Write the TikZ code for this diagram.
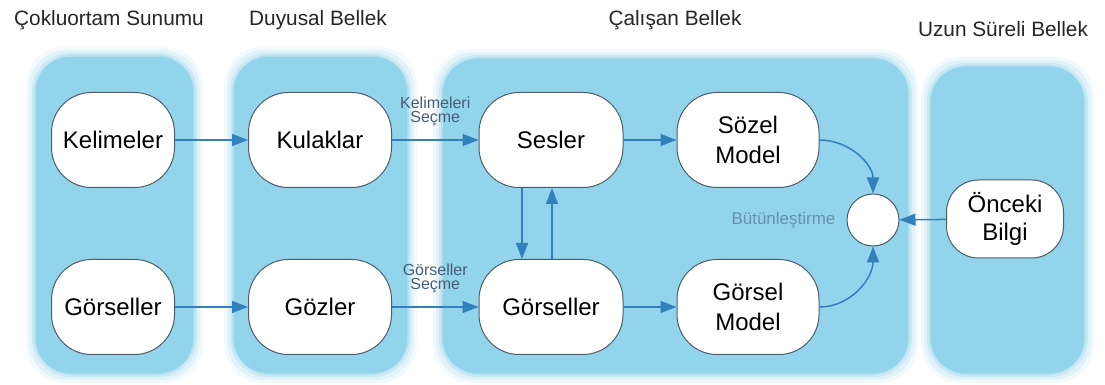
\documentclass[tikz,border=0pt]{standalone}
\usepackage{fontspec}
\setmainfont{Liberation Sans}
\usetikzlibrary{positioning,arrows.meta}
\definecolor{panelblue}{RGB}{146,212,236}
\definecolor{flowblue}{RGB}{50,128,190}
\definecolor{edgegray}{RGB}{80,92,104}
\definecolor{notegray}{RGB}{70,95,120}
\definecolor{softblue}{RGB}{105,145,172}
\tikzset{
  stage box/.style={
    draw=edgegray,
    fill=white,
    line width=0.5pt,
    rounded corners=20pt,
    minimum width={#1},
    minimum height=47.5pt,
    align=center,
    font=\fontsize{12}{15}\selectfont,
  },
  area title/.style={
    font=\fontsize{10.4}{12}\selectfont,
    text=black!85,
  },
  pick note/.style={
    font=\fontsize{8}{7}\selectfont,
    text=notegray,
    align=center,
  },
  flow/.style={
    draw=flowblue,
    line width=0.75pt,
    -{Triangle[length=8pt,width=6pt]},
  }
}
% soft edged memory area: x1,y1,x2,y2 in px
\newcommand{\memarea}[4]{%
  \foreach \g/\o in {10/0.1,7/0.18,4/0.28,2/0.42}
    \fill[panelblue, opacity=\o, rounded corners=19pt]
      (#1-\g,#2-\g) rectangle (#3+\g,#4+\g);
  \fill[panelblue, rounded corners=17pt] (#1,#2) rectangle (#3,#4);
}

\begin{document}
\begin{tikzpicture}[x=0.5pt,y=-0.5pt]
        \useasboundingbox (0,0) rectangle (1105,385);
        \fill[white] (0,0) rectangle (1105,385);

        % memory areas
        \memarea{36}{57}{193}{373}
        \memarea{234}{57}{407}{373}
        \memarea{443}{59}{908}{373}
        \memarea{931}{67}{1084}{373}

        % area titles
        \node [area title] (t1) at (109,20) {Çokluortam Sunumu};
        \node [area title] (t2) at (318,20) {Duyusal Bellek};
        \node [area title] (t3) at (675,20) {Çalışan Bellek};
        \node [area title] (t4) at (1003,29) {Uzun Süreli Bellek};

        % stages
        \node [stage box=61.5pt] (kel) at (113,140) {Kelimeler};
        \node [stage box=61.5pt] (gor1) at (113,307) {Görseller};
        \node [stage box=71.5pt] (kul) at (320,140) {Kulaklar};
        \node [stage box=71.5pt] (goz) at (320,307) {Gözler};
        \node [stage box=72pt] (ses) at (551,140) {Sesler};
        \node [stage box=72pt] (gor2) at (551,307) {Görseller};
        \node [stage box=71pt] (soz) at (748,140) {Sözel\\Model};
        \node [stage box=71pt] (gmod) at (748,307) {Görsel\\Model};
        \node [stage box=58.5pt, minimum height=39pt, rounded corners=16pt, font=\fontsize{12}{14}\selectfont] (onc) at (1005,219) {Önceki\\Bilgi};
        \node [circle, draw=edgegray, fill=white, line width=0.5pt, minimum size=26pt, inner sep=0pt] (int) at (873,220) {};
        \node [pick note, text=softblue, font=\fontsize{8.5}{10}\selectfont, left=2pt of int] (intlabel) {Bütünleştirme};

        % connectors
        \draw [flow] (kel) -- (kul);
        \draw [flow] (gor1) -- (goz);
        \draw [flow] (kul) -- node [pick note, above=3.5pt] (selw) {Kelimeleri\\Seçme} (ses);
        \draw [flow] (goz) -- node [pick note, above=3.5pt] (selg) {Görseller\\Seçme} (gor2);
        \draw [flow] (ses) -- (soz);
        \draw [flow] (gor2) -- (gmod);
        \draw [flow] ([xshift=-14.5pt]ses.south) -- ([xshift=-14.5pt]gor2.north);
        \draw [flow] ([xshift=0.5pt]gor2.north) -- ([xshift=0.5pt]ses.south);
        \draw [flow] (soz.east) to [out=0, in=90] (int.north);
        \draw [flow] (gmod.east) to [out=0, in=-90] (int.south);
        \draw [flow] (onc) -- (int);
      \end{tikzpicture}
\end{document}
